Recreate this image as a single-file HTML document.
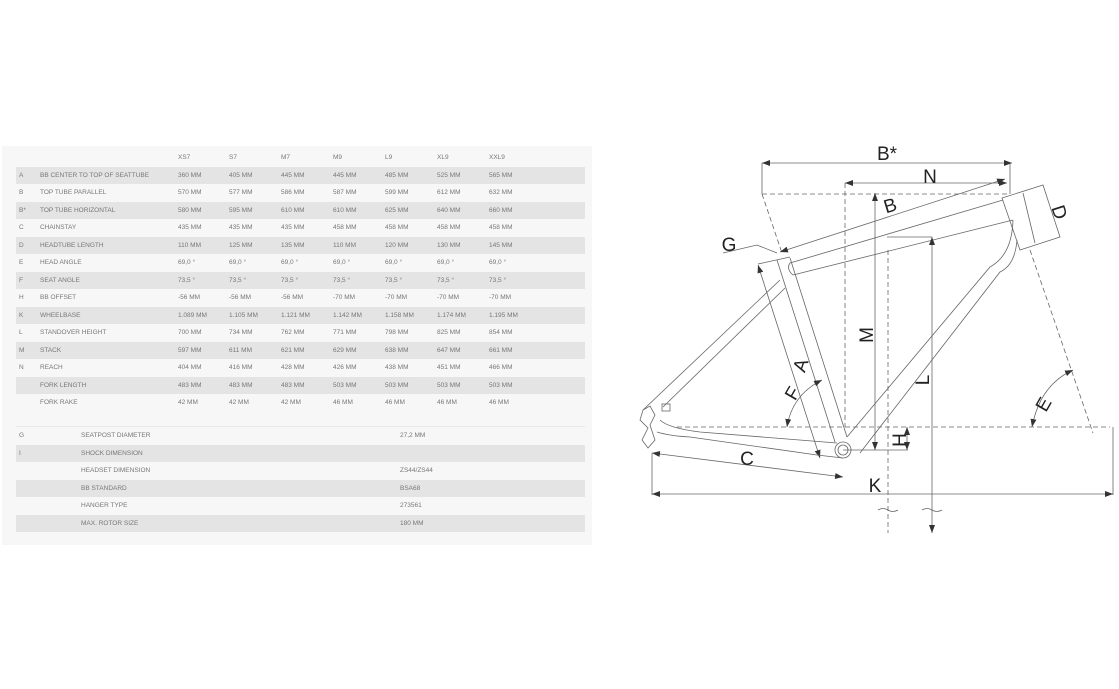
<!DOCTYPE html>
<html><head><meta charset="utf-8"><style>
body{margin:0;width:1119px;height:689px;background:#fff;position:relative;overflow:hidden;font-family:"Liberation Sans",sans-serif;}
#panel{position:absolute;left:2px;top:146px;width:590px;height:399px;background:#f7f7f7;}
.r{position:absolute;left:16px;width:569px;height:17.5px;}
.g{background:#e4e4e4;}
.t{position:absolute;font-size:6.5px;color:#777;white-space:nowrap;line-height:8px;}
svg{position:absolute;left:0;top:0;}
</style></head><body>
<div id="panel"></div>
<div class="r g" style="top:166.5px"></div>
<div class="r g" style="top:201.5px"></div>
<div class="r g" style="top:236.5px"></div>
<div class="r g" style="top:271.5px"></div>
<div class="r g" style="top:306.5px"></div>
<div class="r g" style="top:341.5px"></div>
<div class="r g" style="top:376.5px"></div>
<div class="r" style="top:426px;height:1px;background:#e8e8e8"></div>
<div class="r g" style="top:444.5px"></div>
<div class="r g" style="top:479.5px"></div>
<div class="r g" style="top:514.5px"></div>
<div id="tbl"></div>
<script>
var rows=[["","","XS7","S7","M7","M9","L9","XL9","XXL9"],
["A","BB CENTER TO TOP OF SEATTUBE","360 MM","405 MM","445 MM","445 MM","485 MM","525 MM","565 MM"],
["B","TOP TUBE PARALLEL","570 MM","577 MM","586 MM","587 MM","599 MM","612 MM","632 MM"],
["B*","TOP TUBE HORIZONTAL","580 MM","595 MM","610 MM","610 MM","625 MM","640 MM","660 MM"],
["C","CHAINSTAY","435 MM","435 MM","435 MM","458 MM","458 MM","458 MM","458 MM"],
["D","HEADTUBE LENGTH","110 MM","125 MM","135 MM","110 MM","120 MM","130 MM","145 MM"],
["E","HEAD ANGLE","69,0 °","69,0 °","69,0 °","69,0 °","69,0 °","69,0 °","69,0 °"],
["F","SEAT ANGLE","73,5 °","73,5 °","73,5 °","73,5 °","73,5 °","73,5 °","73,5 °"],
["H","BB OFFSET","-56 MM","-56 MM","-56 MM","-70 MM","-70 MM","-70 MM","-70 MM"],
["K","WHEELBASE","1.089 MM","1.105 MM","1.121 MM","1.142 MM","1.158 MM","1.174 MM","1.195 MM"],
["L","STANDOVER HEIGHT","700 MM","734 MM","762 MM","771 MM","798 MM","825 MM","854 MM"],
["M","STACK","597 MM","611 MM","621 MM","629 MM","638 MM","647 MM","661 MM"],
["N","REACH","404 MM","416 MM","428 MM","426 MM","438 MM","451 MM","466 MM"],
["","FORK LENGTH","483 MM","483 MM","483 MM","503 MM","503 MM","503 MM","503 MM"],
["","FORK RAKE","42 MM","42 MM","42 MM","46 MM","46 MM","46 MM","46 MM"]];
var xs=[19,40,178,229,281,333,385,437,489],h="";
rows.forEach(function(r,i){var y=154+i*17.5;r.forEach(function(c,j){if(c)h+='<div class="t" style="left:'+xs[j]+'px;top:'+y+'px">'+c+'</div>';});});
var low=[["G","SEATPOST DIAMETER","27,2 MM"],["I","SHOCK DIMENSION",""],["","HEADSET DIMENSION","ZS44/ZS44"],["","BB STANDARD","BSA68"],["","HANGER TYPE","273561"],["","MAX. ROTOR SIZE","180 MM"]];
low.forEach(function(r,i){var y=432+i*17.5;[19,81,400].forEach(function(x,j){if(r[j])h+='<div class="t" style="left:'+x+'px;top:'+y+'px">'+r[j]+'</div>';});});
document.getElementById('tbl').innerHTML=h;
</script>
<svg width="1119" height="689" viewBox="0 0 1119 689">
<defs><marker id="a" markerWidth="8" markerHeight="6" refX="8" refY="3" orient="auto" markerUnits="userSpaceOnUse"><path d="M0,0 L8,3 L0,6z" fill="#333"/></marker>
<marker id="s" markerWidth="8" markerHeight="6" refX="0" refY="3" orient="auto" markerUnits="userSpaceOnUse"><path d="M8,0 L0,3 L8,6z" fill="#333"/></marker></defs>
<g fill="none" stroke="#666" stroke-width="0.8">
<g stroke-dasharray="5,3">
<line x1="762" y1="194" x2="1010" y2="194"/>
<line x1="762" y1="194" x2="782" y2="253"/>
<line x1="845" y1="183" x2="845" y2="427"/>
<line x1="888" y1="250" x2="888" y2="533"/>
<line x1="677" y1="427" x2="1110" y2="427"/>
<line x1="1030" y1="250" x2="1093" y2="433"/>
</g>
<line x1="762" y1="163" x2="762" y2="194"/><line x1="1010" y1="163" x2="1010" y2="194"/>
<line x1="762" y1="163" x2="1012" y2="163" marker-start="url(#s)" marker-end="url(#a)"/>
<line x1="845" y1="183" x2="1007" y2="183" marker-start="url(#s)" marker-end="url(#a)"/>
<line x1="780" y1="252" x2="1005" y2="179" marker-start="url(#s)" marker-end="url(#a)"/>
<polyline points="723,253 757,245 777,253"/>
<path d="M790,263 L1003,200 M793,275 L1013,220"/>
<path d="M790,263 Q786,269 793,275"/>
<polygon points="1002,198 1043,185 1060,237 1020,250"/>
<line x1="1023" y1="193" x2="1035" y2="243"/>
<polyline points="758,264 790,257"/>
<line x1="777" y1="260" x2="835" y2="442"/>
<line x1="790" y1="258" x2="847" y2="437"/>
<line x1="758" y1="265" x2="820" y2="458" marker-start="url(#s)" marker-end="url(#a)"/>
<line x1="780" y1="280" x2="643" y2="410"/>
<line x1="785" y1="288" x2="663" y2="407"/>
<path d="M660,420 Q668,428 700,432 L837,443"/>
<path d="M657,432 Q670,436 690,437 L817,455 L843,458"/>
<path d="M1013,220 Q1012,255 990,267 L847,437"/>
<path d="M1017,240 Q1015,265 1000,272 L860,453"/>
<circle cx="843" cy="450" r="8"/><circle cx="843" cy="450" r="5"/>
<path d="M643,410 L650,406 L655,415 L650,425 L655,440 L648,448 L642,440 L648,428 L640,420z"/>
<rect x="662" y="404" width="8" height="7"/>
<line x1="652" y1="453" x2="652" y2="495"/>
<line x1="1113" y1="427" x2="1113" y2="495"/>
<line x1="843" y1="450" x2="908" y2="450"/>
<line x1="875" y1="193" x2="875" y2="450" marker-start="url(#s)" marker-end="url(#a)"/>
<line x1="887" y1="237" x2="932" y2="237"/>
<line x1="932" y1="237" x2="932" y2="533" marker-start="url(#s)" marker-end="url(#a)"/>
<line x1="907" y1="427" x2="907" y2="450" marker-start="url(#s)" marker-end="url(#a)"/>
<line x1="652" y1="453" x2="843" y2="477" marker-start="url(#s)" marker-end="url(#a)"/>
<line x1="652" y1="494" x2="1113" y2="494" marker-start="url(#s)" marker-end="url(#a)"/>
<path d="M1032,427 Q1040,385 1073,370" marker-start="url(#s)" marker-end="url(#a)"/>
<path d="M787,427 Q792,395 822,380" marker-start="url(#s)" marker-end="url(#a)"/>
<path d="M878,510 q5,-3 10,0 t10,0 M922,510 q5,-3 10,0 t10,0"/>
</g>
<g font-family="Liberation Sans, sans-serif" font-size="19" fill="#222" text-anchor="middle">
<text x="887" y="160">B*</text>
<text x="930" y="183">N</text>
<text x="890" y="212" transform="rotate(-17 890 205)">B</text>
<text x="729" y="251">G</text>
<text x="1060" y="219" transform="rotate(72 1060 212)">D</text>
<text x="800" y="372" transform="rotate(-72 800 365)">A</text>
<text x="866" y="342" transform="rotate(-90 866 335)">M</text>
<text x="922" y="387" transform="rotate(-90 922 380)">L</text>
<text x="792" y="400" transform="rotate(-60 792 393)">F</text>
<text x="1043" y="411" transform="rotate(-60 1043 404)">E</text>
<text x="900" y="446" transform="rotate(-90 900 440)">H</text>
<text x="747" y="465">C</text>
<text x="875" y="492">K</text>
</g>
</svg>
</body></html>
